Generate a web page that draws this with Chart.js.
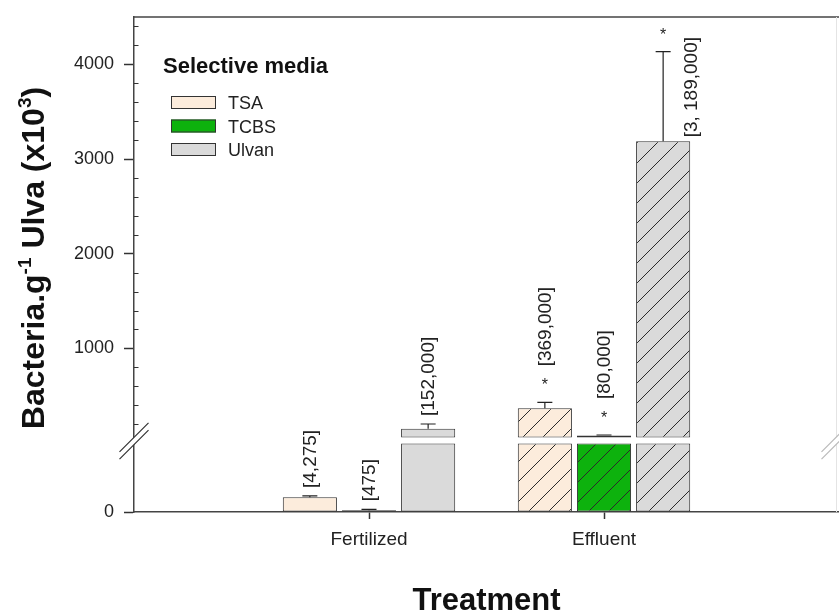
<!DOCTYPE html>
<html><head><meta charset="utf-8">
<script src="https://cdn.jsdelivr.net/npm/chart.js@4/dist/chart.umd.min.js"></script>
<style>html,body{margin:0;padding:0;background:#fff;}#wrap{width:839px;height:613px;}</style>
</head><body><div id="wrap"><canvas id="c" width="839" height="613"></canvas></div>
<script>
// ---- data (Bacteria per g Ulva, x10^3) ----
const categories = ['', 'Fertilized', 'Effluent', ''];
const treatments = ['Fertilized', 'Effluent'];
const seriesNames = ['TSA', 'TCBS', 'Ulvan'];
const tsaValues = [4.275, 369];
const tcbsValues = [0.475, 80];
const ulvanValues = [152, 3189];
const tsaErrors = [0.4, 62];
const tcbsErrors = [0.3, 6];
const ulvanErrors = [50, 945];
const tsaLabels = ['[4,275]', '[369,000]'];
const tcbsLabels = ['[475]', '[80,000]'];
const ulvanLabels = ['[152,000]', '[3, 189,000]'];
const tsaSignificant = [false, true];
const tcbsSignificant = [false, true];
const ulvanSignificant = [false, true];
const hatchedTreatments = [false, true];
const upperTickLabels = [1000, 2000, 3000, 4000];
const lowerTickLabels = [0];
const xAxisTitle = 'Treatment';
const legendTitle = 'Selective media';

// ---- axis break settings ----
const LOWER_MAX = 21, LOWER_BAR_CAP = 20;
const UPPER_MIN = 33, UPPER_BAR_BASE = 60, UPPER_MAX = 4500, MINOR_STEP = 200;

const FONT = '"Liberation Sans", Arial, Helvetica, sans-serif';
const colors = ['#FCECDC', '#0DB20D', '#DADADA'];
const edge = '#333333';

function makePattern(color) {
  const c = document.createElement('canvas');
  c.width = 20; c.height = 20;
  const g = c.getContext('2d');
  g.fillStyle = color; g.fillRect(0, 0, 20, 20);
  g.strokeStyle = '#2a2a2a'; g.lineWidth = 1;
  g.beginPath();
  g.moveTo(-2, 22); g.lineTo(22, -2);
  g.moveTo(-2, 2); g.lineTo(2, -2);
  g.moveTo(18, 22); g.lineTo(22, 18);
  g.stroke();
  return g.createPattern(c, 'repeat');
}

const series = [
  {name: seriesNames[0], values: tsaValues, errors: tsaErrors, labels: tsaLabels, sig: tsaSignificant},
  {name: seriesNames[1], values: tcbsValues, errors: tcbsErrors, labels: tcbsLabels, sig: tcbsSignificant},
  {name: seriesNames[2], values: ulvanValues, errors: ulvanErrors, labels: ulvanLabels, sig: ulvanSignificant}
];

function byCategory(arr) {
  return categories.map(c => { const i = treatments.indexOf(c); return i < 0 ? null : arr[i]; });
}

const datasets = [];
series.forEach((s, si) => {
  const pat = makePattern(colors[si]);
  const bg = categories.map(c => { const i = treatments.indexOf(c); return (i >= 0 && hatchedTreatments[i]) ? pat : colors[si]; });
  const common = { backgroundColor: bg, borderColor: edge, borderWidth: 1, borderSkipped: false, stack: s.name };
  datasets.push(Object.assign({ label: s.name, yAxisID: 'yLow',
    data: byCategory(s.values).map(v => v == null ? null : Math.min(v, LOWER_BAR_CAP)) }, common));
  datasets.push(Object.assign({ label: s.name + ' (upper)', yAxisID: 'y',
    data: byCategory(s.values).map(v => (v != null && v > UPPER_BAR_BASE) ? [UPPER_BAR_BASE, v] : null) }, common));
});

const decor = {
  id: 'decor',
  afterDatasetsDraw(chart) {
    const ctx = chart.ctx, ca = chart.chartArea;
    const up = chart.scales.y, lo = chart.scales.yLow;
    ctx.save();
    // top border and faint right axis
    ctx.strokeStyle = '#444'; ctx.lineWidth = 1.5;
    ctx.beginPath(); ctx.moveTo(ca.left, ca.top); ctx.lineTo(839, ca.top); ctx.stroke();
    ctx.strokeStyle = '#e4e4e4'; ctx.lineWidth = 1;
    ctx.beginPath(); ctx.moveTo(836.5, ca.top); ctx.lineTo(836.5, ca.bottom); ctx.stroke();
    // minor ticks (inside)
    ctx.strokeStyle = '#333'; ctx.lineWidth = 1;
    ctx.beginPath();
    for (let v = MINOR_STEP; v < UPPER_MAX; v += MINOR_STEP) {
      if (upperTickLabels.includes(v)) continue;
      const py = Math.round(up.getPixelForValue(v)) + 0.5;
      ctx.moveTo(ca.left, py); ctx.lineTo(ca.left + 4.5, py);
    }
    ctx.stroke();
    // axis break marks
    const yb = Math.min(up.bottom, lo.top) + 1;
    function breakMark(x, col) {
      const c1 = yb - 3.6, c2 = yb + 3.6, h = 14.5;
      ctx.fillStyle = '#fff';
      ctx.beginPath();
      ctx.moveTo(x - h, c1 + h); ctx.lineTo(x + h, c1 - h); ctx.lineTo(x + h, c2 - h); ctx.lineTo(x - h, c2 + h);
      ctx.closePath(); ctx.fill();
      ctx.strokeStyle = col; ctx.lineWidth = 1.2;
      ctx.beginPath();
      ctx.moveTo(x - h, c1 + h); ctx.lineTo(x + h, c1 - h);
      ctx.moveTo(x - h, c2 + h); ctx.lineTo(x + h, c2 - h);
      ctx.stroke();
    }
    breakMark(ca.left, '#333');
    breakMark(836, '#bbb');

    // error bars, asterisks, value labels
    series.forEach((s, si) => {
      const metaLo = chart.getDatasetMeta(si * 2);
      treatments.forEach((t, ti) => {
        const ci = categories.indexOf(t);
        const v = s.values[ti], e = s.errors[ti];
        const x = metaLo.data[ci].x;
        const yTop = v > UPPER_BAR_BASE ? up.getPixelForValue(v) : lo.getPixelForValue(v);
        const hi = v + e;
        const yCap = hi > UPPER_BAR_BASE ? up.getPixelForValue(hi) : lo.getPixelForValue(hi);
        ctx.strokeStyle = '#222'; ctx.lineWidth = 1.2;
        ctx.beginPath();
        ctx.moveTo(x, yTop); ctx.lineTo(x, yCap);
        ctx.moveTo(x - 7.5, yCap); ctx.lineTo(x + 7.5, yCap);
        ctx.stroke();
        ctx.fillStyle = '#222';
        let anchor = yCap - 8;
        if (s.sig[ti]) {
          const sy = yCap - 21;
          ctx.font = '16px ' + FONT; ctx.textAlign = 'center'; ctx.textBaseline = 'alphabetic';
          ctx.fillText('*', x, sy + 9);
          anchor = sy - 15;
        }
        ctx.font = '19px ' + FONT;
        const w = ctx.measureText(s.labels[ti]).width;
        let lx = x + 1;
        if (anchor - w < ca.top + 5) { lx = x + 29; anchor = ca.top + 20 + w; }
        ctx.save();
        ctx.translate(lx, anchor); ctx.rotate(-Math.PI / 2);
        ctx.textAlign = 'left'; ctx.textBaseline = 'middle';
        ctx.fillText(s.labels[ti], 0, 0);
        ctx.restore();
      });
    });

    // legend
    ctx.fillStyle = '#111'; ctx.textAlign = 'left'; ctx.textBaseline = 'alphabetic';
    ctx.font = 'bold 22px ' + FONT;
    ctx.fillText(legendTitle, 163, 73);
    series.forEach((s, si) => {
      const by = 96 + si * 23.5;
      ctx.fillStyle = colors[si]; ctx.fillRect(171, by, 45, 13);
      ctx.strokeStyle = edge; ctx.lineWidth = 1; ctx.strokeRect(171.5, by + 0.5, 44, 12);
      ctx.fillStyle = '#222'; ctx.font = '18px ' + FONT;
      ctx.fillText(s.name, 228, by + 13);
    });

    // axis titles
    ctx.fillStyle = '#111';
    ctx.font = 'bold 31px ' + FONT; ctx.textAlign = 'center';
    ctx.fillText(xAxisTitle, (ca.left + ca.right) / 2, 610);
    const parts = [
      {t: 'Bacteria.g', f: 'bold 32px ' + FONT, dy: 0},
      {t: '-1', f: 'bold 19px ' + FONT, dy: -13},
      {t: ' Ulva (x10', f: 'bold 32px ' + FONT, dy: 0},
      {t: '3', f: 'bold 19px ' + FONT, dy: -13},
      {t: ')', f: 'bold 32px ' + FONT, dy: 0}
    ];
    let total = 0;
    parts.forEach(p => { ctx.font = p.f; p.w = ctx.measureText(p.t).width; total += p.w; });
    ctx.save();
    ctx.translate(44, 258); ctx.rotate(-Math.PI / 2);
    ctx.textAlign = 'left';
    let px = -total / 2;
    parts.forEach(p => { ctx.font = p.f; ctx.fillText(p.t, px, p.dy); px += p.w; });
    ctx.restore();
    ctx.restore();
  }
};

const tickFont = { family: FONT, size: 18 };
const plain = v => String(v);
new Chart(document.getElementById('c'), {
  type: 'bar',
  data: { labels: categories, datasets },
  options: {
    responsive: false, animation: false, devicePixelRatio: 1,
    layout: { padding: { top: 17, left: 0, right: 0, bottom: 0 } },
    plugins: { legend: { display: false }, tooltip: { enabled: false } },
    datasets: { bar: { categoryPercentage: 0.755, barPercentage: 0.915 } },
    scales: {
      x: {
        type: 'category', offset: false,
        grid: { offset: false, drawOnChartArea: false, drawTicks: true, tickLength: 7, tickWidth: 1.5,
                tickColor: c => (categories[c.index] ? '#333' : 'rgba(0,0,0,0)') },
        border: { display: true, color: '#444', width: 1.5 },
        ticks: { font: { family: FONT, size: 19 }, color: '#222', padding: 9, autoSkip: false, maxRotation: 0 },
        afterFit: s => { s.height = 101; s.paddingLeft = 0; s.paddingRight = 0; }
      },
      yLow: {
        type: 'linear', position: 'left', stack: 'yy', stackWeight: 72, stacked: false,
        min: 0, max: LOWER_MAX,
        afterBuildTicks: s => { s.ticks = lowerTickLabels.map(v => ({ value: v })); },
        grid: { drawOnChartArea: false, tickLength: 10, tickColor: '#333', tickWidth: 1.5 },
        border: { display: true, color: '#444', width: 1.5 },
        ticks: { font: tickFont, color: '#222', padding: 10, callback: plain },
        afterFit: s => { s.width = 134; s.paddingTop = 0; s.paddingBottom = 0; }
      },
      y: {
        type: 'linear', position: 'left', stack: 'yy', stackWeight: 423, stacked: false,
        min: UPPER_MIN, max: UPPER_MAX,
        afterBuildTicks: s => { s.ticks = upperTickLabels.map(v => ({ value: v })); },
        grid: { drawOnChartArea: false, tickLength: 10, tickColor: '#333', tickWidth: 1.5 },
        border: { display: true, color: '#444', width: 1.5 },
        ticks: { font: tickFont, color: '#222', padding: 10, callback: plain },
        afterFit: s => { s.width = 134; s.paddingTop = 0; s.paddingBottom = 0; }
      }
    }
  },
  plugins: [decor]
});
</script></body></html>
